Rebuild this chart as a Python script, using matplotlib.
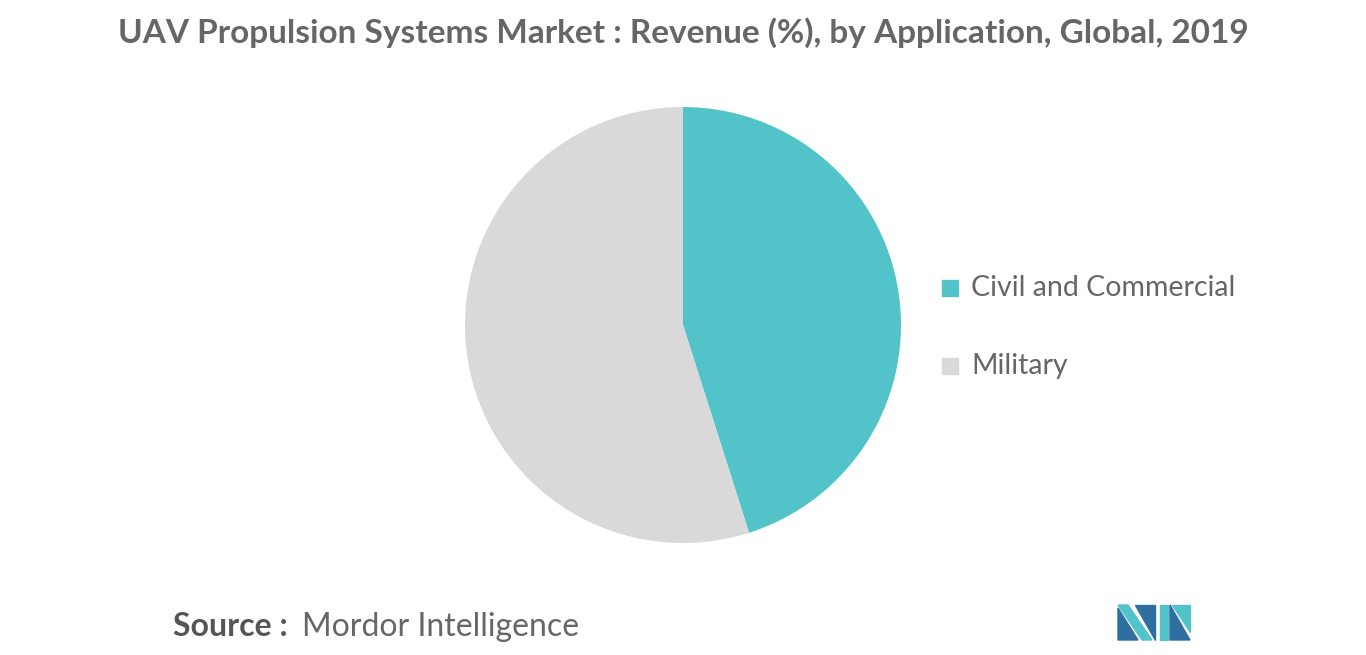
import matplotlib
matplotlib.use("Agg")
import matplotlib.pyplot as plt
from matplotlib.patches import Polygon

labels = ["Civil and Commercial", "Military"]
values = [45.1, 54.9]
colors = ["#52c4c9", "#d9d9d9"]

W, H = 1366, 655
fig = plt.figure(figsize=(W/100, H/100), dpi=100)
fig.patch.set_facecolor("white")

r = 218
ax = fig.add_axes([(683-r)/W, 1-(325+r)/H, 2*r/W, 2*r/H])
ax.pie(values, colors=colors, startangle=90, counterclock=False,
       wedgeprops=dict(linewidth=0))
ax.set_xlim(-1, 1); ax.set_ylim(-1, 1)
ax.set_aspect("equal")

fig.text(683/W, 1-33/H, "UAV Propulsion Systems Market : Revenue (%), by Application, Global, 2019",
         ha="center", va="center", fontsize=24, color="#666666", fontweight="bold", family="Lato")

for i, (lab, c) in enumerate(zip(labels, colors)):
    y = 288 + i*78
    fig.patches.append(plt.Rectangle((942/W, 1-(y+8)/H), 16/W, 16/H, color=c, transform=fig.transFigure))
    fig.text(971/W, 1-y/H, lab, ha="left", va="center", fontsize=20.5, color="#666666", family="Lato")

fig.text(173/W, 1-627/H, "Source :", ha="left", va="center", fontsize=23, color="#555555", fontweight="bold", family="Lato")
fig.text(302/W, 1-627/H, "Mordor Intelligence", ha="left", va="center", fontsize=23, color="#666666", family="Lato")

def P(pts, c):
    fig.patches.append(Polygon([(x/W, 1-y/H) for x, y in pts], closed=True, color=c, transform=fig.transFigure))
P([(1118,640),(1118,608),(1138,640)], "#2f6f9f")
P([(1118,605),(1128,605),(1152,640),(1142,640)], "#52c4c9")
P([(1135,605),(1155,605),(1155,640)], "#2f6f9f")
P([(1160,605),(1168,605),(1168,640),(1160,640)], "#52c4c9")
P([(1170,605),(1190,640),(1170,640)], "#2f6f9f")
P([(1172,605),(1190,605),(1190,632)], "#52c4c9")

fig.savefig("out.png", dpi=100)
